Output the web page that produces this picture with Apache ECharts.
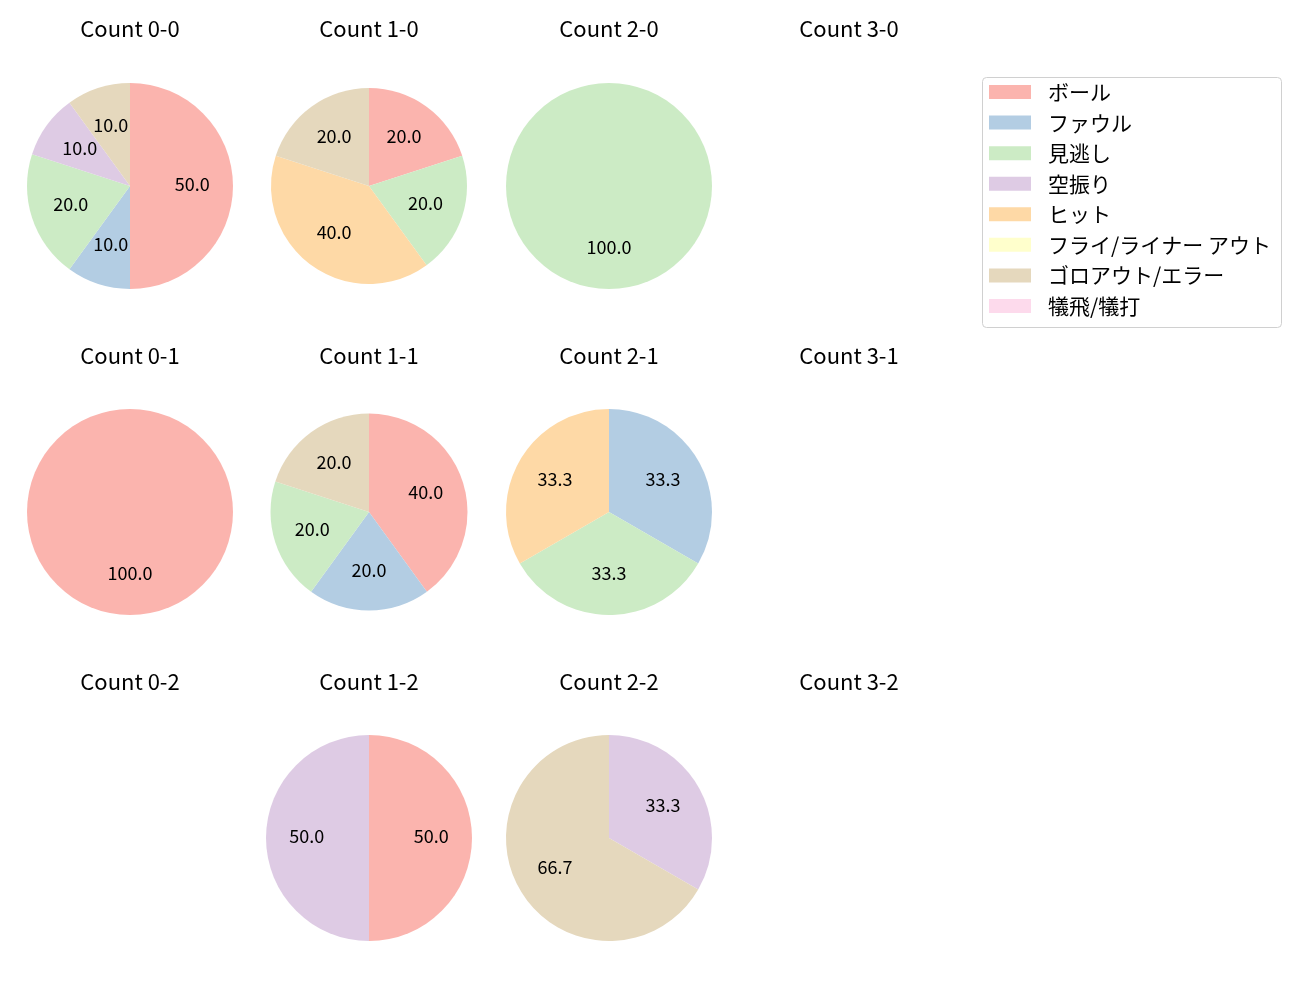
<!DOCTYPE html>
<html>
<head>
<meta charset="utf-8">
<script src="https://cdn.jsdelivr.net/npm/echarts@6/dist/echarts.min.js"></script>
<style>html,body{margin:0;padding:0;background:#fff}#c{width:1300px;height:1000px}</style>
</head>
<body>
<div id="c"></div>
<script>
const categories = ['ボール','ファウル','見逃し','空振り','ヒット','フライ/ライナー アウト','ゴロアウト/エラー','犠飛/犠打'];
const colors = ['#fbb4ae','#b3cde3','#ccebc5','#decbe4','#fed9a6','#ffffcc','#e5d8bd','#fddaec'];
const balls = [0,1,2,3];
const strikes = [0,1,2];
// counts per category for each ball-strike count (null = no data)
const count_0_0 = [5,1,2,1,0,0,1,0];
const count_1_0 = [1,0,1,0,2,0,1,0];
const count_2_0 = [0,0,1,0,0,0,0,0];
const count_3_0 = null;
const count_0_1 = [1,0,0,0,0,0,0,0];
const count_1_1 = [2,1,1,0,0,0,1,0];
const count_2_1 = [0,1,1,0,1,0,0,0];
const count_3_1 = null;
const count_0_2 = null;
const count_1_2 = [1,0,0,1,0,0,0,0];
const count_2_2 = [0,0,0,1,0,0,2,0];
const count_3_2 = null;

const grid = [
  [count_0_0, count_1_0, count_2_0, count_3_0],
  [count_0_1, count_1_1, count_2_1, count_3_1],
  [count_0_2, count_1_2, count_2_2, count_3_2]
];
const colX = [130, 369, 609, 849];
const rowY = [186, 512, 838];
const titleY = [29, 356, 682];
const radii = [[103, 98, 103, 103],[103, 98.5, 103, 103],[103, 103, 103, 103]];
const FONT = "'Noto Sans CJK JP', 'Noto Sans', sans-serif";

const series = [];
const labelSeries = [];
const graphics = [{
  type: 'rect', left: 982, top: 77, z: -1,
  shape: {width: 299, height: 250, r: 4},
  style: {fill: '#fff', stroke: '#d0d0d0', lineWidth: 1}
}];
strikes.forEach(function (s) {
  balls.forEach(function (b) {
    graphics.push({
      type: 'text', x: colX[b], y: titleY[s],
      style: {text: 'Count ' + b + '-' + s, textAlign: 'center', textVerticalAlign: 'middle',
        align: 'center', verticalAlign: 'middle', fill: '#000', font: '22px ' + FONT}
    });
    const v = grid[s][b];
    if (!v) return;
    const total = v.reduce(function (a, c) { return a + c; }, 0);
    const r = radii[s][b];
    series.push({
      type: 'pie', center: [colX[b], rowY[s]], radius: r, startAngle: 90, clockwise: true,
      silent: true, label: {show: false}, labelLine: {show: false},
      itemStyle: {borderWidth: 0},
      data: categories.map(function (n, i) {
        return {name: n, value: v[i], itemStyle: {color: colors[i]}};
      })
    });
    const ld = [];
    categories.forEach(function (n, i) {
      if (v[i] > 0) ld.push({name: n + '#lbl', value: v[i]});
    });
    labelSeries.push({
      type: 'pie', center: [colX[b], rowY[s]], radius: [0, r * 1.15], startAngle: 90, clockwise: true,
      silent: true, itemStyle: {color: 'rgba(0,0,0,0)', borderWidth: 0},
      labelLine: {show: false}, emphasis: {disabled: true},
      label: {show: true, position: 'inside', color: '#000', fontSize: 18, fontFamily: FONT,
        offset: [0, -1.5],
        formatter: function (p) { return (p.value / total * 100).toFixed(1); }},
      data: ld
    });
  });
});

const chart = echarts.init(document.getElementById('c'));
chart.setOption({
  animation: false,
  backgroundColor: '#fff',
  graphic: graphics,
  legend: {
    orient: 'vertical', left: 989, top: 81.5, padding: 0,
    data: categories, icon: 'rect', itemWidth: 42, itemHeight: 14, itemGap: 9.57,
    selectedMode: false,
    textStyle: {fontSize: 21, fontFamily: FONT, color: '#000', lineHeight: 21, padding: [0, 0, 0, 12]}
  },
  series: series.concat(labelSeries)
});
</script>
</body>
</html>
